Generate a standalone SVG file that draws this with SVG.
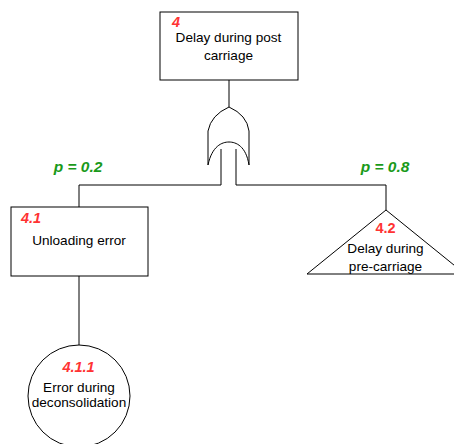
<svg xmlns="http://www.w3.org/2000/svg" width="454" height="444" viewBox="0 0 454 444">
<style>
.shape{fill:#fff;stroke:#000;stroke-width:1}
.line{fill:none;stroke:#000;stroke-width:1}
.t{font-family:"Liberation Sans",Arial,sans-serif;font-size:13.6px;fill:#000;text-anchor:middle}
.id{font-family:"Liberation Sans",Arial,sans-serif;font-size:14.5px;font-weight:bold;font-style:italic;fill:#ff3333}
.p{font-family:"Liberation Sans",Arial,sans-serif;font-size:15.5px;font-weight:bold;font-style:italic;fill:#1a9a1a;text-anchor:middle}
</style>
<rect width="454" height="444" fill="#fff"/>
<g id="connectors">
<path class="line" d="M229,80 V107"/>
<path class="line" d="M221,149 V185 H79 V207"/>
<path class="line" d="M236,149 V185 H386 V210"/>
<path class="line" d="M79,276 V345"/>
</g>
<g id="node-4">
<rect class="shape" x="160" y="12" width="138" height="68"/>
<text class="id" x="172" y="27">4</text>
<text class="t" x="228.5" y="42">Delay during post</text>
<text class="t" x="228.5" y="60">carriage</text>
</g>
<g id="gate-or">
<path class="shape" d="M208,165 L208,131 Q211,115 229,107 Q247,115 249,131 L249,165 C246,146 236,142 229,142 C222,142 212,146 208,165 Z"/>
</g>
<g id="label-p02"><text class="p" x="78" y="172">p = 0.2</text></g>
<g id="label-p08"><text class="p" x="385" y="172">p = 0.8</text></g>
<g id="node-4-1">
<rect class="shape" x="11" y="207" width="137" height="69"/>
<text class="id" x="21" y="223">4.1</text>
<text class="t" x="79" y="245">Unloading error</text>
</g>
<g id="node-4-2">
<path class="shape" d="M386,210 L307,274 L465,274 Z"/>
<text class="id" x="385.5" y="233" text-anchor="middle" style="font-style:normal">4.2</text>
<text class="t" x="385.5" y="253">Delay during</text>
<text class="t" x="385.5" y="270.5">pre-carriage</text>
</g>
<g id="node-4-1-1">
<circle class="shape" cx="79" cy="396" r="51"/>
<text class="id" x="78.5" y="372" text-anchor="middle">4.1.1</text>
<text class="t" x="79" y="392">Error during</text>
<text class="t" x="79" y="407">deconsolidation</text>
</g>
</svg>
